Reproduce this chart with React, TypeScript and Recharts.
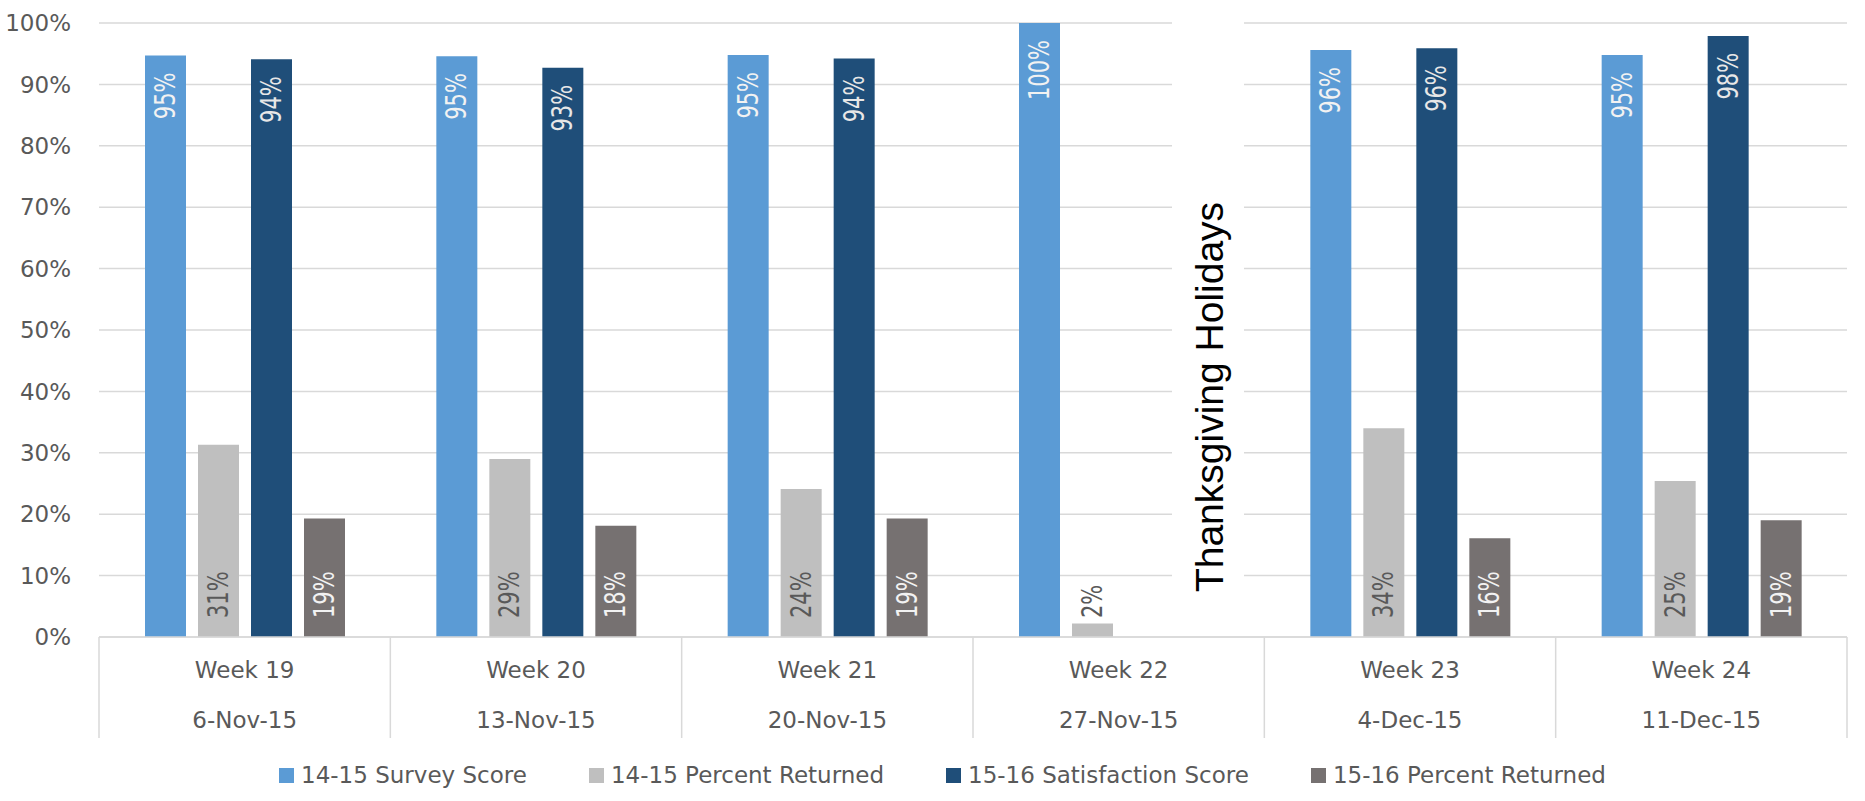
import React from "react";
import { BarChart, Bar, XAxis, YAxis, CartesianGrid, Legend, LabelList, Customized } from "recharts";

const weeks = ["Week 19", "Week 20", "Week 21", "Week 22", "Week 23", "Week 24"];
const weekDates = ["6-Nov-15", "13-Nov-15", "20-Nov-15", "27-Nov-15", "4-Dec-15", "11-Dec-15"];

const surveyScore1415 = [94.7, 94.6, 94.8, 100, 95.6, 94.8];
const percentReturned1415 = [31.3, 29.0, 24.1, 2.2, 34.0, 25.4];
const satisfaction1516 = [94.1, 92.7, 94.2, null, 95.9, 97.9];
const percentReturned1516 = [19.3, 18.1, 19.3, null, 16.1, 19.0];

const yTicks = [0, 10, 20, 30, 40, 50, 60, 70, 80, 90, 100];

const FONT = "'DejaVu Sans', sans-serif";
const TEXT_GREY = "#595959";
const LINE_GREY = "#d9d9d9";

const WIDTH = 1865;
const HEIGHT = 801;
const MARGIN = { top: 23, right: 18, left: 0, bottom: 54 };
const Y_AXIS_W = 99;
const BAND = (WIDTH - MARGIN.left - MARGIN.right - Y_AXIS_W) / weeks.length;

const series = [
  { key: "s1415", name: "14-15 Survey Score", color: "#5b9bd5", labelColor: "#f2f2f2", atBase: false },
  { key: "r1415", name: "14-15 Percent Returned", color: "#bfbfbf", labelColor: TEXT_GREY, atBase: true },
  { key: "s1516", name: "15-16 Satisfaction Score", color: "#1f4e79", labelColor: "#e7e7e7", atBase: false },
  { key: "r1516", name: "15-16 Percent Returned", color: "#767171", labelColor: "#f2f2f2", atBase: true },
];

const data = weeks.map((week, i) => ({
  week,
  date: weekDates[i],
  s1415: surveyScore1415[i],
  r1415: percentReturned1415[i],
  s1516: satisfaction1516[i],
  r1516: percentReturned1516[i],
}));

// two-row category label with the boxed separators underneath the plot
const CategoryTick = (props: any) => {
  const { x, y, payload } = props;
  const idx = weeks.indexOf(payload.value);
  const half = BAND / 2;
  const lineProps = { stroke: LINE_GREY, strokeWidth: 1.5 };
  return (
    <g>
      <line x1={x - half} x2={x - half} y1={y} y2={y + 101} {...lineProps} />
      {idx === weeks.length - 1 && <line x1={x + half} x2={x + half} y1={y} y2={y + 101} {...lineProps} />}
      <text x={x} y={y + 41} textAnchor="middle" fill={TEXT_GREY} fontSize={23} fontFamily={FONT}>
        {payload.value}
      </text>
      <text x={x} y={y + 91} textAnchor="middle" fill={TEXT_GREY} fontSize={23} fontFamily={FONT}>
        {weekDates[idx]}
      </text>
    </g>
  );
};

// vertical value labels: near the top for scores, near the base for returns
const makeBarLabel = (color: string, atBase: boolean) => (props: any) => {
  const box = props.viewBox ?? props;
  const { value } = props;
  if (value == null) return null;
  const cx = Number(box.x) + Number(box.width) / 2;
  const top = Number(box.y);
  const base = Number(box.y) + Number(box.height);
  const ay = atBase ? base - 19 : top + 17;
  return (
    <text
      transform={`translate(${cx},${ay}) rotate(-90) scale(1,1.35)`}
      textAnchor={atBase ? "start" : "end"}
      dominantBaseline="central"
      fill={color}
      fontSize={21}
      fontFamily={FONT}
    >
      {Math.round(Number(value))}%
    </text>
  );
};

const HolidayNote = () => (
  <g>
    <rect x={1172} y={10} width={72} height={620} fill="#ffffff" />
    <text
      transform="translate(1223,397) rotate(-90)"
      textAnchor="middle"
      fill="#000000"
      fontSize={39}
      fontFamily="'Liberation Sans', Arial, sans-serif"
    >
      Thanksgiving Holidays
    </text>
  </g>
);

const LegendRow = () => (
  <div
    style={{
      display: "flex",
      justifyContent: "center",
      alignItems: "center",
      paddingLeft: 20,
      fontFamily: FONT,
      fontSize: 23,
      color: TEXT_GREY,
      gap: 62,
    }}
  >
    {series.map((s) => (
      <div key={s.key} style={{ display: "flex", alignItems: "center" }}>
        <span style={{ width: 15, height: 15, background: s.color, marginRight: 7, display: "inline-block" }} />
        <span>{s.name}</span>
      </div>
    ))}
  </div>
);

export default function App() {
  return (
    <div style={{ position: "absolute", left: 0, top: 0, background: "#ffffff" }}>
      <BarChart width={WIDTH} height={HEIGHT} data={data} margin={MARGIN} barSize={41} barGap={12}>
        <CartesianGrid vertical={false} stroke={LINE_GREY} strokeWidth={1.5} />
        <XAxis
          dataKey="week"
          height={110}
          interval={0}
          axisLine={{ stroke: LINE_GREY, strokeWidth: 1.5 }}
          tickLine={false}
          tickSize={0}
          tickMargin={0}
          tick={<CategoryTick />}
        />
        <YAxis
          width={Y_AXIS_W}
          domain={[0, 100]}
          ticks={yTicks}
          interval={0}
          tickFormatter={(v: number) => `${v}%`}
          axisLine={false}
          tickLine={false}
          tickSize={0}
          tickMargin={28}
          tick={{ fontSize: 23, fill: TEXT_GREY, fontFamily: FONT }}
        />
        <Customized component={HolidayNote} />
        {series.map((s) => (
          <Bar key={s.key} dataKey={s.key} name={s.name} fill={s.color} isAnimationActive={false}>
            <LabelList dataKey={s.key} content={makeBarLabel(s.labelColor, s.atBase)} />
          </Bar>
        ))}
        <Legend
          verticalAlign="middle"
          content={<LegendRow />}
          wrapperStyle={{ top: 762, left: 0, width: WIDTH, height: 30 }}
        />
      </BarChart>
    </div>
  );
}
